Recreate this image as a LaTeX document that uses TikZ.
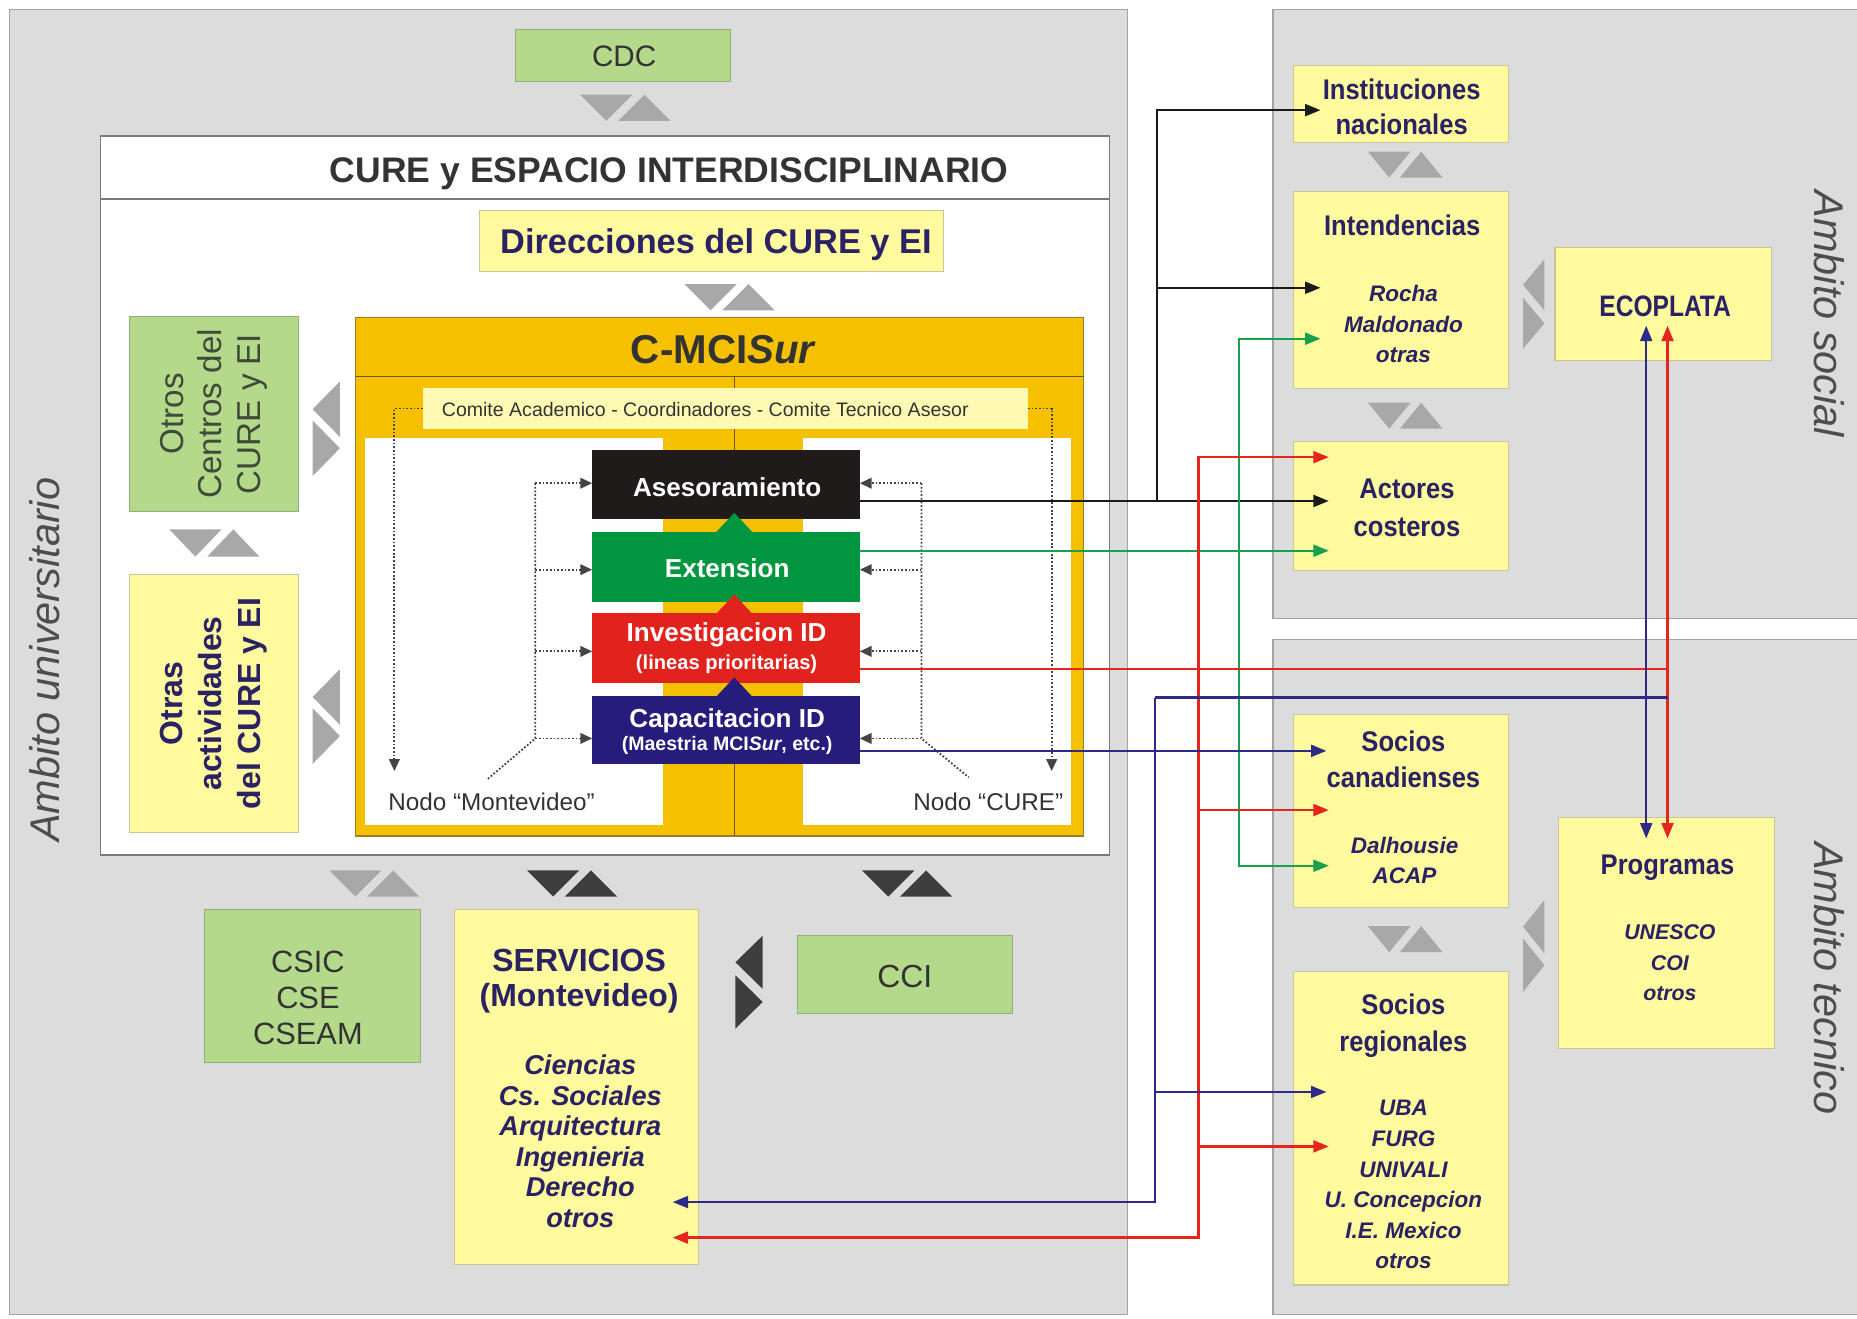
\documentclass[tikz,border=0pt]{standalone}
\usepackage{fontspec}
\setmainfont{Liberation Sans}
\newfontfamily\condfont[FakeStretch=0.9]{Liberation Sans}
\newfontfamily\ecofont[FakeStretch=0.83]{Liberation Sans}
\usetikzlibrary{arrows.meta,calc}
\definecolor{panelgray}{HTML}{DCDCDC}
\definecolor{panelborder}{HTML}{A3A3A3}
\definecolor{ylw}{HTML}{FFFA9E}
\definecolor{ylwborder}{HTML}{C8C59A}
\definecolor{grnbx}{HTML}{B4D98A}
\definecolor{grnborder}{HTML}{93AE78}
\definecolor{orng}{HTML}{F5C000}
\definecolor{orngborder}{HTML}{9C7E2A}
\definecolor{orngsep}{HTML}{6B5520}
\definecolor{comitec}{HTML}{FFFAB3}
\definecolor{navytxt}{HTML}{2A2262}
\definecolor{blkbox}{HTML}{1F1B1B}
\definecolor{grnbox}{HTML}{00953F}
\definecolor{redbox}{HTML}{E1221D}
\definecolor{navybox}{HTML}{251C7C}
\definecolor{lnblack}{HTML}{1A1A1A}
\definecolor{lngreen}{HTML}{18A04A}
\definecolor{lnred}{HTML}{E3261F}
\definecolor{lnnavy}{HTML}{2C2A86}
\definecolor{trilight}{HTML}{A8A8A8}
\definecolor{tridark}{HTML}{3E3E3E}
\definecolor{txtgray}{HTML}{333333}
\definecolor{ambgray}{HTML}{4D4D4D}
\definecolor{otrostxt}{HTML}{3F4A3A}
\definecolor{curebd}{HTML}{7A7A7A}
\definecolor{dotc}{HTML}{444444}
\newcommand\fsz[2]{\fontsize{#1}{#2}\selectfont}
% horizontal pair: down triangle then up triangle
\newcommand\TriH[6]{%
  \fill[#6] (#1,#2) -- (#1+#3,#2) -- (#1+#3/2,#2+#5) -- cycle;
  \fill[#6] (#1+#3/2+#4,#2+#5) -- (#1+1.5*#3+#4,#2+#5) -- (#1+#3+#4,#2) -- cycle;}
% vertical pair: left-pointing above, right-pointing below
\newcommand\TriV[6]{%
  \fill[#6] (#1+#5,#2) -- (#1+#5,#2+#3) -- (#1,#2+#3/2) -- cycle;
  \fill[#6] (#1,#2+#3/2+#4) -- (#1,#2+1.5*#3+#4) -- (#1+#5,#2+#3+#4) -- cycle;}
\begin{document}
\begin{tikzpicture}[x=1pt,y=-1pt,
  every node/.style={inner sep=0pt, outer sep=0pt},
  >={Triangle[length=13pt,width=10pt]},
  panel/.style={fill=panelgray, draw=panelborder, line width=1.2pt},
  ybox/.style={rectangle, fill=ylw, draw=ylwborder, line width=0.9pt},
  gbox/.style={rectangle, fill=grnbx, draw=grnborder, line width=0.9pt},
  actbox/.style={rectangle, minimum width=226pt},
  amb/.style={font=\fsz{35}{40}\itshape, text=ambgray},
  navylbl/.style={text=navytxt, align=center},
  condlbl/.style={navylbl, font=\fsz{24}{30}\condfont\bfseries},
  itlbl/.style={navylbl, font=\fsz{19}{25.5}\bfseries\itshape},
  graylbl/.style={text=txtgray, align=center},
  lnb/.style={draw=lnblack, line width=2pt},
  lng/.style={draw=lngreen, line width=2pt},
  lnr/.style={draw=lnred, line width=2pt},
  lnn/.style={draw=lnnavy, line width=2pt},
  dotln/.style={draw=dotc, line width=1.5pt, dash pattern=on 1.5pt off 1.6pt},
  dotarr/.style={-{Triangle[length=10pt,width=9pt]}}
]
\useasboundingbox (0,0) rectangle (1568,1113);
\fill[white] (0,0) rectangle (1568,1113);
% ---------- panels
\draw[panel] (8,8) rectangle (952,1110);
\draw[panel] (1075,8) rectangle (1580,522);
\draw[panel] (1075,540) rectangle (1580,1110);
\node[amb, rotate=90] (ambU) at (38,557) {Ambito universitario};
\node[amb, rotate=-90] (ambS) at (1545,265) {Ambito social};
\node[amb, rotate=-90] (ambT) at (1545,826) {Ambito tecnico};

% ---------- top of left panel
\node[gbox, minimum width=182pt, minimum height=44pt] (cdc) at (526,47) {};
\node[graylbl, anchor=base, font=\fsz{25}{30}] (cdct) at (527,56) {CDC};
\TriH{490}{80}{44}{10}{22}{trilight}

\node[draw=curebd, fill=white, line width=1.2pt, minimum width=852pt, minimum height=607pt] (cure) at (511,418.5) {};
\draw[curebd, line width=1.2pt] ($(cure.north west)+(0,53)$) -- ($(cure.north east)+(0,53)$);
\node[anchor=base, text=txtgray, font=\fsz{30}{36}\bfseries] (curet) at (565,153.7) {CURE y ESPACIO INTERDISCIPLINARIO};

\node[ybox, minimum width=392pt, minimum height=51pt] (dir) at (601,203.5) {};
\node[navylbl, anchor=base, font=\fsz{29}{34}\bfseries] (dirt) at (604.5,214.4) {Direcciones del CURE y EI};
\TriH{578}{240}{44}{10}{22}{trilight}

% ---------- C-MCISur
\node[fill=orng, draw=orngborder, line width=1.2pt, minimum width=615pt, minimum height=438pt] (cmci) at (607.5,487) {};
\draw[orngsep, line width=1.2pt] ($(cmci.north west)+(0,50)$) -- ($(cmci.north east)+(0,50)$);
\draw[orngsep, line width=1pt] ($(cmci.north)+(12.5,50)$) -- ($(cmci.south)+(12.5,0)$);
\node[anchor=base, text=txtgray, font=\fsz{34}{40}\bfseries] (cmcit) at (611,307.2) {C-MCI\textit{Sur}};
\fill[white] (308,370) rectangle (560,697);
\fill[white] (678,370) rectangle (904,697);
\node[fill=comitec, minimum width=511pt, minimum height=34pt] (comite) at (612.5,345) {};
\node[anchor=base, text=txtgray, font=\fsz{16.5}{20}] (comitet) at (595.5,351.9) {Comite Academico - Coordinadores - Comite Tecnico Asesor};

\node[actbox, fill=blkbox, minimum height=58pt] (ases) at (613,409) {};
\node[actbox, fill=grnbox, minimum height=59pt] (ext) at (613,478.5) {};
\node[actbox, fill=redbox, minimum height=59pt] (inv) at (613,547.5) {};
\node[actbox, fill=navybox, minimum height=57pt] (cap) at (613,616.5) {};
\fill[grnbox] (605,449) -- (635,449) -- (620,433) -- cycle;
\fill[redbox] (605,518) -- (635,518) -- (620,502) -- cycle;
\fill[navybox] (605,588) -- (635,588) -- (620,572) -- cycle;
\node[anchor=base, text=white, font=\fsz{22}{26}\bfseries] (asest) at (614,418.9) {Asesoramiento};
\node[anchor=base, text=white, font=\fsz{22}{26}\bfseries] (extt) at (614,487.9) {Extension};
\node[anchor=base, text=white, font=\fsz{22}{26}\bfseries] (invt1) at (613.5,541.9) {Investigacion ID};
\node[anchor=base, text=white, font=\fsz{17}{20}\bfseries] (invt2) at (613.5,565.1) {(lineas prioritarias)};
\node[anchor=base, text=white, font=\fsz{22}{26}\bfseries] (capt1) at (614,613.9) {Capacitacion ID};
\node[anchor=base, text=white, font=\fsz{16.5}{20}\bfseries] (capt2) at (614,633.9) {(Maestria MCI\textit{Sur}, etc.)};

\node[anchor=base, text=txtgray, font=\fsz{20.5}{24}] (nodoM) at (415,684.3) {Nodo “Montevideo”};
\node[anchor=base, text=txtgray, font=\fsz{20.5}{24}] (nodoC) at (834.5,684.3) {Nodo “CURE”};

% dotted links inside the nodes
\coordinate (dlx) at (452,0);
\coordinate (drx) at (778,0);
\coordinate (yA) at ($(ases.west)+(0,-1)$);
\coordinate (yB) at ($(ext.west)+(0,2.5)$);
\coordinate (yC) at ($(inv.west)+(0,2.5)$);
\coordinate (yD) at ($(cap.west)+(0,7)$);
\draw[dotln] (dlx |- yA) -- (dlx |- yD) -- ($(nodoM.north)+(-4,-11)$);
\draw[dotln] (drx |- yA) -- (drx |- yD) -- ($(nodoC.north)+(-16.5,-13)$);
\foreach \p/\b in {yA/ases,yB/ext,yC/inv,yD/cap}{
  \draw[dotln,dotarr] (dlx |- \p) -- (\b.west |- \p);
  \draw[dotln,dotarr] (drx |- \p) -- (\b.east |- \p);
}
\coordinate (cdl) at (333,651);
\coordinate (cdr) at (888,651);
\draw[dotln,dotarr] (comite.west) -- (cdl |- comite.west) -- (cdl);
\draw[dotln,dotarr] (comite.east) -- (cdr |- comite.east) -- (cdr);

% ---------- left column
\node[gbox, rotate=90, minimum width=165pt, minimum height=143pt, text=otrostxt, align=center, font=\fsz{28}{32.5}] (otros) at (180.5,349.5) {Otros\\Centros del\\CURE y EI};
\TriV{264}{322}{47}{9.5}{23}{trilight}
\TriH{143}{447}{44}{10}{23}{trilight}
\node[ybox, rotate=90, minimum width=218pt, minimum height=143pt, navylbl, font=\fsz{27}{33}\bfseries] (otras) at (180.5,594) {Otras\\actividades\\del CURE y EI};
\TriV{264}{565}{47}{9.5}{23}{trilight}

% ---------- bottom row
\TriH{278}{735}{44}{10}{22}{trilight}
\TriH{445}{735}{44}{10}{22}{tridark}
\TriH{728}{735}{44}{10}{22}{tridark}
\node[gbox, minimum width=182pt, minimum height=129pt] (csic) at (264,832.5) {};
\node[graylbl, anchor=north, font=\fsz{26}{30.5}] (csict) at (260,802.7) {CSIC\\CSE\\CSEAM};
\node[ybox, minimum width=206pt, minimum height=300pt] (serv) at (487,918) {};
\node[navylbl, anchor=north, font=\fsz{27}{30}\bfseries] (servt1) at (489,801.3) {SERVICIOS\\(Montevideo)};
\node[navylbl, anchor=north, font=\fsz{23}{25.8}\bfseries\itshape] (servt2) at (490,890.8) {Ciencias\\Cs. Sociales\\Arquitectura\\Ingenieria\\Derecho\\otros};
\TriV{621}{790}{45}{11}{23}{tridark}
\node[gbox, minimum width=182pt, minimum height=66pt] (cci) at (764,823) {};
\node[graylbl, anchor=base, font=\fsz{27}{30}] (ccit) at (764,833.7) {CCI};

% ---------- ambito social
\node[ybox, minimum width=182pt, minimum height=65pt] (inst) at (1183,87.5) {};
\node[condlbl, anchor=north] (instt) at (1183.5,66.4) {Instituciones\\nacionales};
\TriH{1155}{128}{36}{9}{22}{trilight}
\node[ybox, minimum width=182pt, minimum height=166pt] (intend) at (1183,245) {};
\node[condlbl, anchor=base] (intt1) at (1184,198.6) {Intendencias};
\node[itlbl, anchor=north] (intt2) at (1185,241.2) {Rocha\\Maldonado\\otras};
\TriH{1155}{340}{36}{9}{22}{trilight}
\node[ybox, minimum width=182pt, minimum height=109pt] (act) at (1183,427.5) {};
\node[condlbl, anchor=north, font=\fsz{24}{32}\condfont\bfseries] (actt) at (1188,404.4) {Actores\\costeros};
\TriV{1286}{219}{43}{11}{18}{trilight}
\node[ybox, minimum width=183pt, minimum height=95pt] (eco) at (1404.5,256.5) {};
\node[navylbl, anchor=base, font=\fsz{25}{30}\ecofont\bfseries] (ecot) at (1406,267) {ECOPLATA};

% ---------- ambito tecnico
\node[ybox, minimum width=182pt, minimum height=163pt] (sc) at (1183,684.5) {};
\node[condlbl, anchor=north] (sct1) at (1185,617.4) {Socios\\canadienses};
\node[itlbl, anchor=north, font=\fsz{19}{25}\bfseries\itshape] (sct2) at (1186,707.2) {Dalhousie\\ACAP};
\TriH{1155}{782}{36}{9}{22}{trilight}
\node[ybox, minimum width=182pt, minimum height=265pt] (sr) at (1183,952.5) {};
\node[condlbl, anchor=north, font=\fsz{24}{31}\condfont\bfseries] (srt1) at (1185,839.4) {Socios\\regionales};
\node[itlbl, anchor=north, font=\fsz{19}{25.8}\bfseries\itshape] (srt2) at (1185,929.2) {UBA\\FURG\\UNIVALI\\U. Concepcion\\I.E. Mexico\\otros};
\TriV{1286}{760}{45}{10}{18}{trilight}
\node[ybox, minimum width=182pt, minimum height=195pt] (prog) at (1407,787.5) {};
\node[condlbl, anchor=base] (progt1) at (1408,738.6) {Programas};
\node[itlbl, anchor=north, font=\fsz{18}{26}\bfseries\itshape] (progt2) at (1410,780.6) {UNESCO\\COI\\otros};

% ---------- connectors
% black
\coordinate (bx) at (977,0);
\coordinate (tActB) at ($(act.west)+(30,-4.5)$);
\coordinate (tInst) at ($(inst.west)+(23,5.5)$);
\coordinate (tIntB) at ($(intend.west)+(23,-2)$);
\draw[lnb,->] (ases.east |- tActB) -- (tActB);
\draw[lnb,->] (bx |- tActB) -- (bx |- tInst) -- (tInst);
\draw[lnb,->] (bx |- tIntB) -- (tIntB);
% green
\coordinate (gx) at (1046,0);
\coordinate (tActG) at ($(act.west)+(30,37.5)$);
\coordinate (tIntG) at ($(intend.west)+(23,41)$);
\coordinate (tScG) at ($(sc.west)+(30,46.5)$);
\draw[lng,->] (ext.east |- tActG) -- (tActG);
\draw[lng,<->] (tIntG) -- (gx |- tIntG) -- (gx |- tScG) -- (tScG);
% red
\coordinate (rx) at (1012,0);
\coordinate (rh) at (0,565);
\coordinate (tActR) at ($(act.west)+(30,-41.5)$);
\coordinate (tScR) at ($(sc.west)+(30,-0.5)$);
\coordinate (tSrR) at ($(sr.west)+(30,15.5)$);
\coordinate (tServR) at ($(serv.east)+(-22,127)$);
\coordinate (tEcoR) at ($(eco.south)+(3.5,-29)$);
\coordinate (tProgR) at ($(prog.north)+(1,18)$);
\draw[lnr] (inv.east |- rh) -- (tEcoR |- rh);
\draw[lnr,<->] (tEcoR) -- (tProgR);
\draw[lnr,<->] (tActR) -- (rx |- tActR) -- (rx |- tServR) -- (tServR);
\draw[lnr,->] (rx |- tScR) -- (tScR);
\draw[lnr,->] (rx |- tSrR) -- (tSrR);
% navy
\coordinate (nx) at (975,0);
\coordinate (nh) at (0,589);
\coordinate (tScN) at ($(sc.west)+(28,-50.5)$);
\coordinate (tSrN) at ($(sr.west)+(28,-30.5)$);
\coordinate (tServN) at ($(serv.east)+(-22,97)$);
\coordinate (tEcoN) at ($(eco.south)+(-14.5,-29)$);
\coordinate (tProgN) at ($(prog.north)+(-17,18)$);
\draw[lnn,->] (cap.east |- tScN) -- (tScN);
\draw[lnn,<->] (tEcoN) -- (tProgN);
\draw[lnn] (nx |- nh) -- (tEcoR |- nh);
\draw[lnn,->] (nx |- nh) -- (nx |- tServN) -- (tServN);
\draw[lnn,->] (nx |- tSrN) -- (tSrN);
\end{tikzpicture}
\end{document}
